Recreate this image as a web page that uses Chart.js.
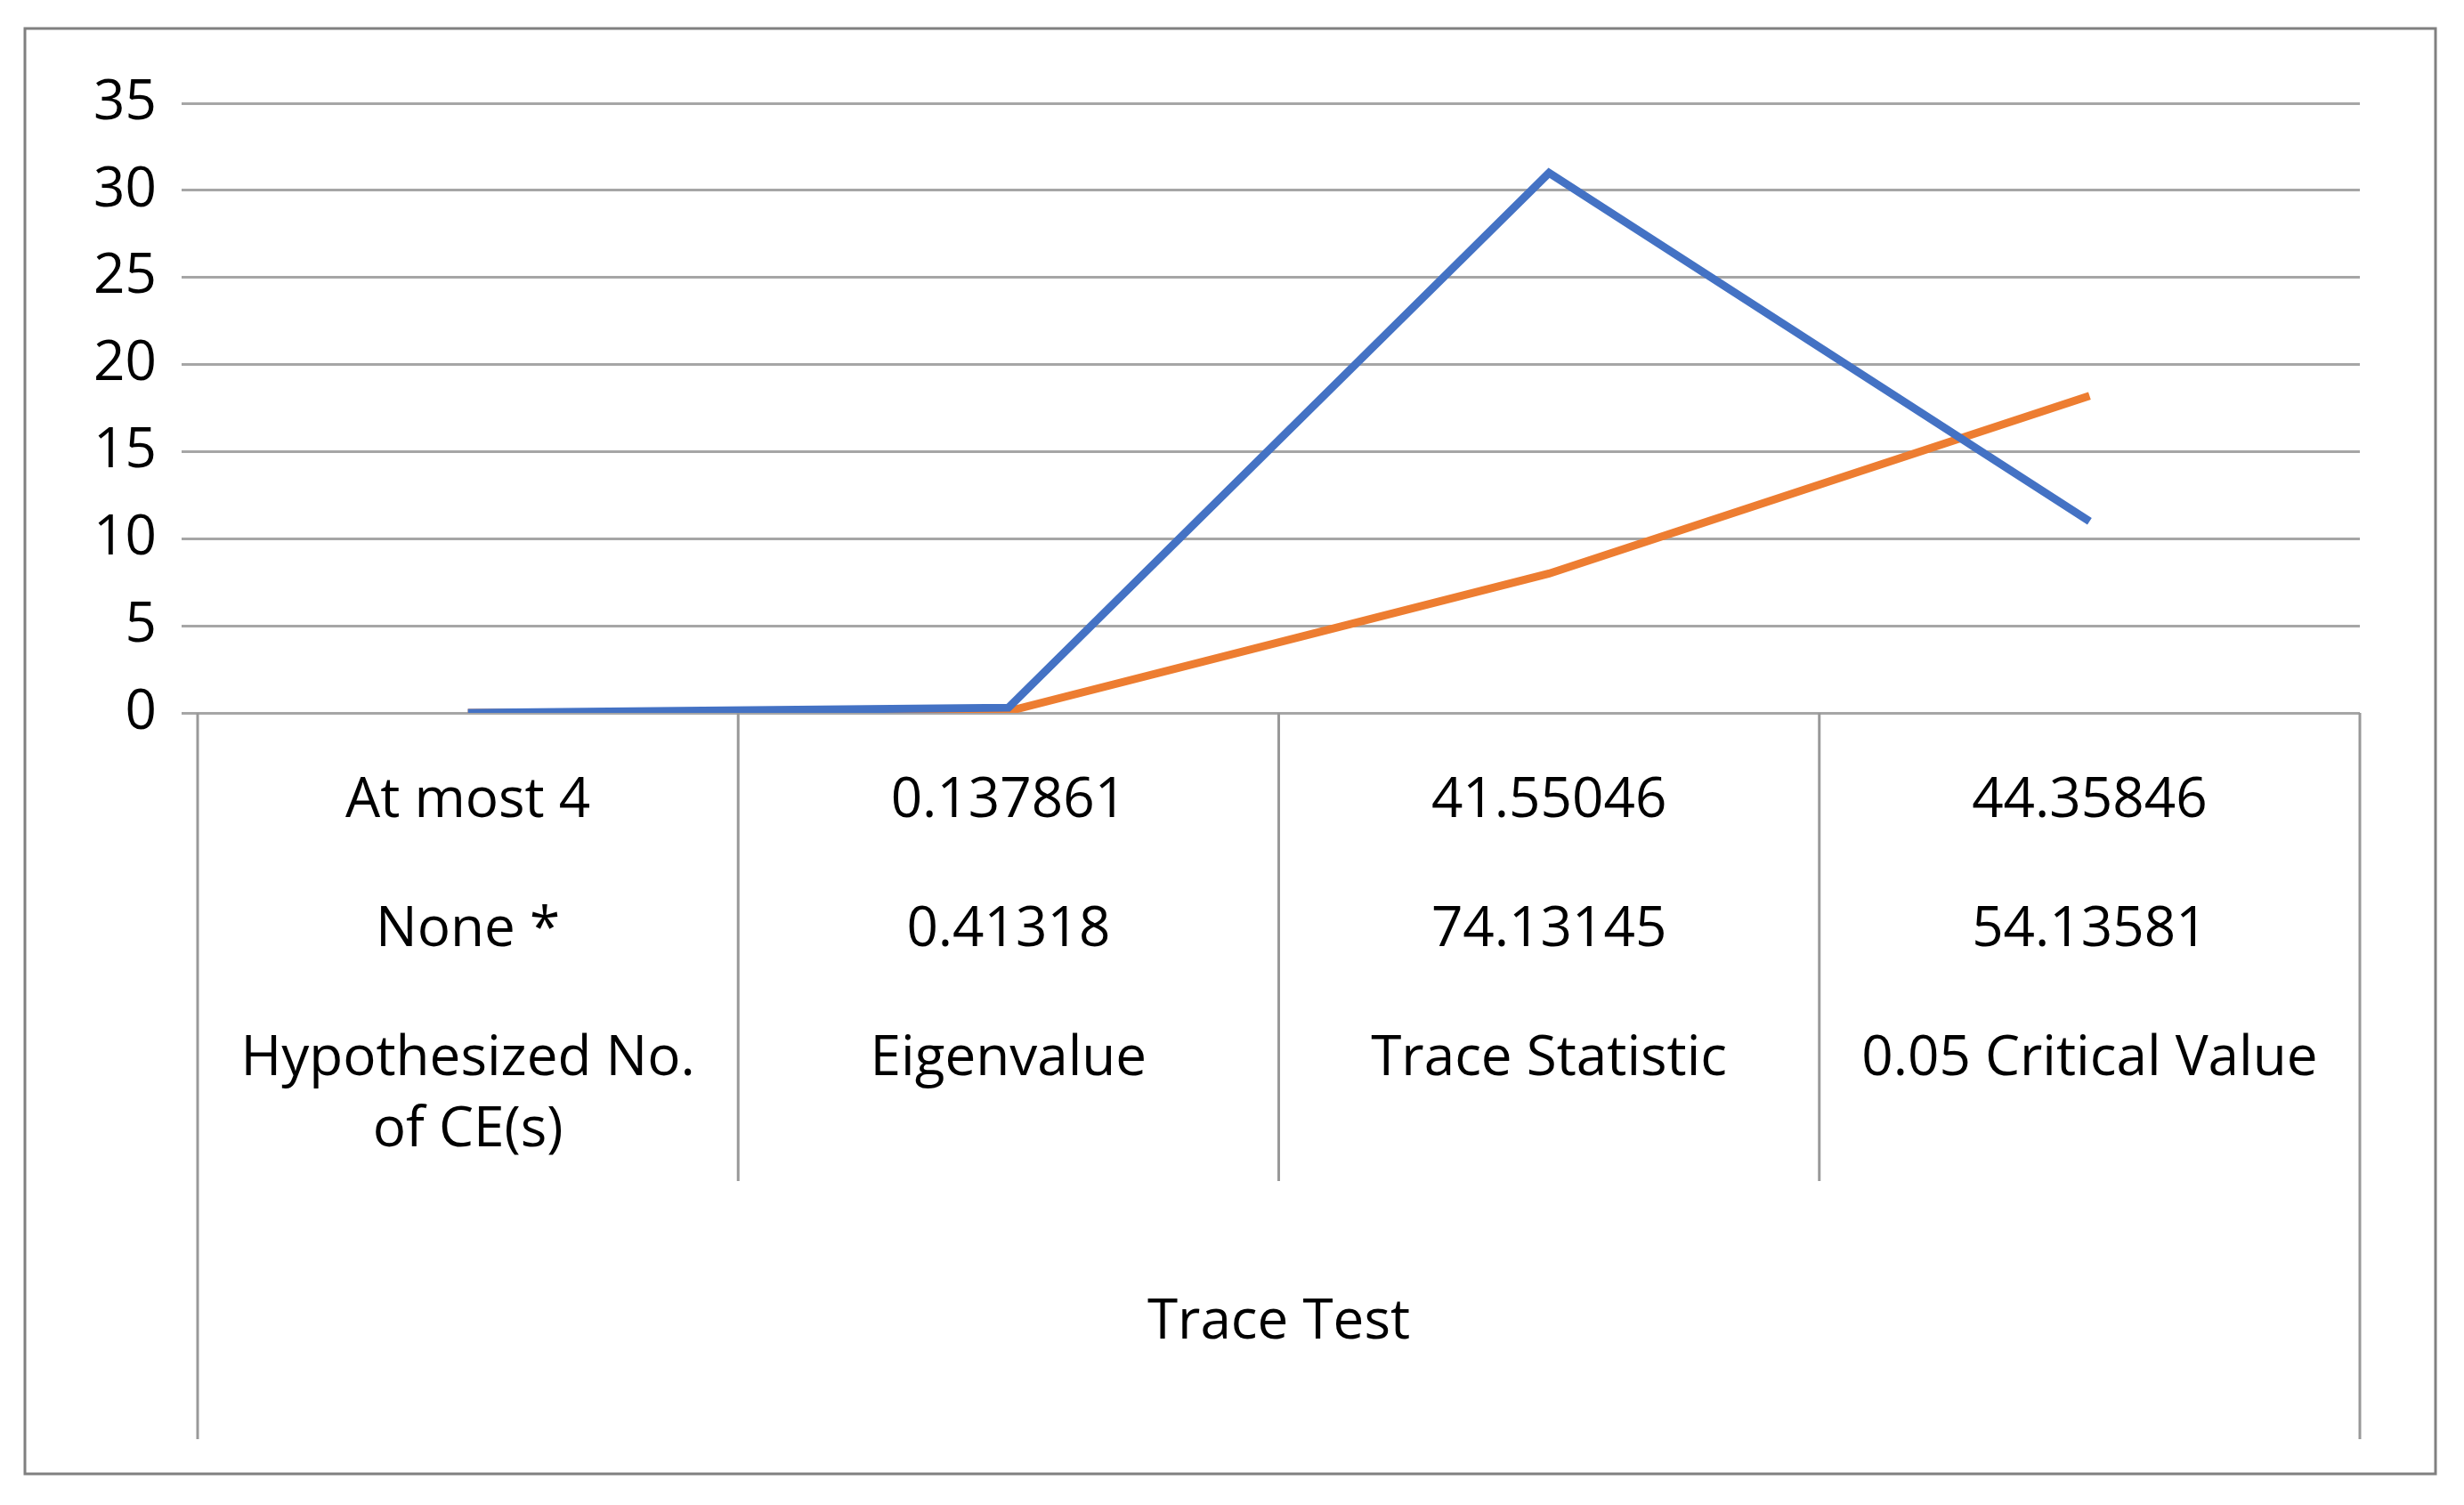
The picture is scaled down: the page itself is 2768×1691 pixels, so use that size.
<!DOCTYPE html>
<html>
<head>
<meta charset="utf-8">
<script src="https://cdn.jsdelivr.net/npm/chart.js@4.4.0/dist/chart.umd.min.js"></script>
<style>
  html, body { margin: 0; padding: 0; background: #fff; }
  #wrap { width: 2768px; height: 1691px; position: relative; }
</style>
</head>
<body>
<div id="wrap"><canvas id="traceChart" width="2768" height="1691"></canvas></div>
<script>
// category rows (multi-level axis)
const categories = ['c1', 'c2', 'c3', 'c4'];
const rowAtMost4 = ['At most 4', '0.137861', '41.55046', '44.35846'];
const rowNone = ['None *', '0.41318', '74.13145', '54.13581'];
const rowHeader = [['Hypothesized No.', 'of CE(s)'], ['Eigenvalue'], ['Trace Statistic'], ['0.05 Critical Value']];
const groupLabel = 'Trace Test';

// series values
const seriesBlue = [0, 0.3, 31, 11];
const seriesOrange = [0, 0.1, 8, 18.2];
const yTicks = [0, 5, 10, 15, 20, 25, 30, 35];

const FONT = '"Open Sans", "Liberation Sans", sans-serif';

// draws the table-style category axis under the plot
const tableAxis = {
    id: 'tableAxis',
    afterDraw(chart) {
        const ctx = chart.ctx;
        const area = chart.chartArea;
        const x = chart.scales.x;
        const step = x.getPixelForValue(1) - x.getPixelForValue(0);
        ctx.save();
        ctx.strokeStyle = '#999999';
        ctx.lineWidth = 3;
        for (let i = 0; i <= categories.length; i++) {
            const px = x.getPixelForValue(0) - step / 2 + i * step;
            const outer = (i === 0 || i === categories.length);
            ctx.beginPath();
            ctx.moveTo(px, area.bottom);
            ctx.lineTo(px, outer ? 1617 : 1327);
            ctx.stroke();
        }
        ctx.fillStyle = '#000';
        ctx.font = '62px ' + FONT;
        ctx.textAlign = 'center';
        ctx.textBaseline = 'middle';
        categories.forEach((c, i) => {
            const px = x.getPixelForValue(i);
            ctx.fillText(rowAtMost4[i], px, 900);
            ctx.fillText(rowNone[i], px, 1045);
            rowHeader[i].forEach((t, j) => ctx.fillText(t, px, 1190 + j * 80));
        });
        ctx.fillText(groupLabel, (area.left + area.right) / 2, 1486);
        // outer frame
        ctx.strokeStyle = '#808080';
        ctx.lineWidth = 3;
        ctx.strokeRect(28, 32, 2708, 1624);
        ctx.restore();
    }
};

const ctx = document.getElementById('traceChart').getContext('2d');
new Chart(ctx, {
    type: 'line',
    data: {
        labels: categories,
        datasets: [
            { data: seriesBlue, borderColor: '#4472C4', borderWidth: 9, pointRadius: 0, tension: 0 },
            { data: seriesOrange, borderColor: '#ED7D31', borderWidth: 9, pointRadius: 0, tension: 0 }
        ]
    },
    options: {
        responsive: false,
        animation: false,
        layout: { padding: { left: 40, top: 116, right: 117, bottom: 890 } },
        plugins: { legend: { display: false }, tooltip: { enabled: false } },
        scales: {
            x: { display: false, offset: true },
            y: {
                min: 0, max: 35,
                afterFit(scale) { scale.width = 182; },
                afterBuildTicks(scale) { scale.ticks = yTicks.map(v => ({ value: v })); },
                border: { display: false },
                grid: { color: '#a6a6a6', lineWidth: 3, drawTicks: true, tickLength: 18 },
                ticks: { color: '#000', font: { family: FONT, size: 62 }, padding: 28 }
            }
        }
    },
    plugins: [tableAxis]
});
</script>
</body>
</html>
